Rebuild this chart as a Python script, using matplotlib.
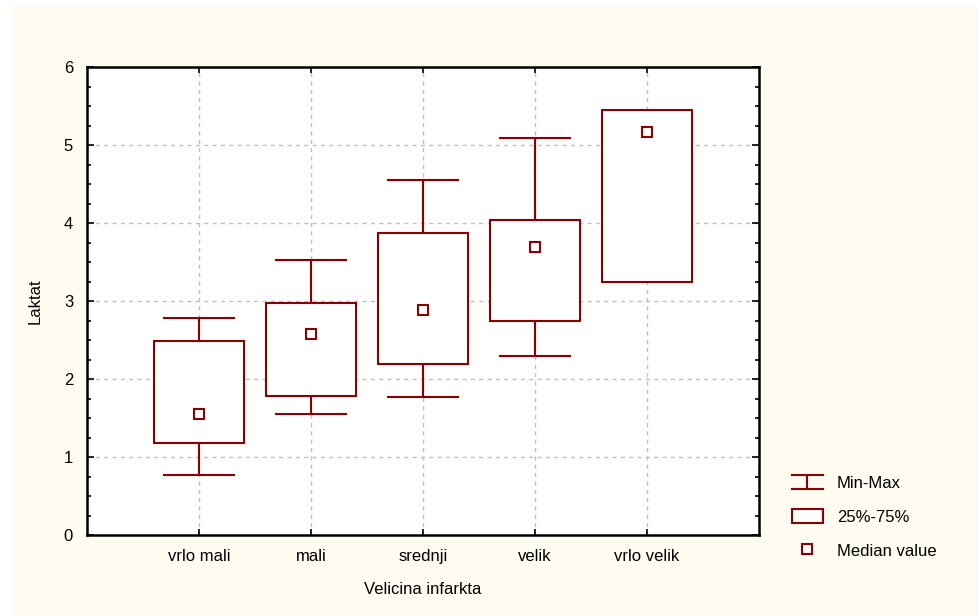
import matplotlib
matplotlib.use("Agg")
import matplotlib.pyplot as plt
from matplotlib.patches import Rectangle
from matplotlib.lines import Line2D
from matplotlib.ticker import MultipleLocator
from matplotlib.legend_handler import HandlerBase
from matplotlib import font_manager

names = {f.name for f in font_manager.fontManager.ttflist}
if 'Liberation Sans Narrow' in names:
    plt.rcParams['font.family'] = ['Liberation Sans Narrow', 'DejaVu Sans']
    FS = 14
else:
    plt.rcParams['font.family'] = ['Liberation Sans', 'DejaVu Sans']
    FS = 12

categories = ["vrlo mali", "mali", "srednji", "velik", "vrlo velik"]
mins = [0.77, 1.55, 1.77, 2.29, 3.24]
q1s = [1.18, 1.78, 2.19, 2.74, 3.24]
medians = [1.55, 2.58, 2.88, 3.69, 5.17]
q3s = [2.49, 2.97, 3.87, 4.04, 5.45]
maxs = [2.78, 3.53, 4.55, 5.09, 5.45]

color = "#8B0000"
lw = 1.5

fig = plt.figure(figsize=(9.79, 6.16), dpi=100, facecolor="white")
fig.patches.append(Rectangle((11/979, 0), 1 - 11/979, (616-6)/616,
                             transform=fig.transFigure, facecolor="#FEFCF0",
                             edgecolor="none", zorder=-10))
ax = fig.add_axes([87/979, 1 - 535/616, (759-87)/979, (535-67)/616])
ax.set_facecolor("white")

box_w = 0.8
cap_w = 0.62
for i, cat in enumerate(categories):
    x = i + 1
    ax.add_patch(Rectangle((x - box_w/2, q1s[i]), box_w, q3s[i] - q1s[i],
                           facecolor="white", edgecolor=color, lw=lw, zorder=3))
    if maxs[i] > q3s[i]:
        ax.plot([x, x], [q3s[i], maxs[i]], color=color, lw=lw, zorder=3)
        ax.plot([x - cap_w/2, x + cap_w/2], [maxs[i], maxs[i]], color=color, lw=lw, zorder=3)
    if mins[i] < q1s[i]:
        ax.plot([x, x], [mins[i], q1s[i]], color=color, lw=lw, zorder=3)
        ax.plot([x - cap_w/2, x + cap_w/2], [mins[i], mins[i]], color=color, lw=lw, zorder=3)
    ax.plot(x, medians[i], marker="s", markersize=7, markerfacecolor="white",
            markeredgecolor=color, markeredgewidth=lw, linestyle="none", zorder=4)

ax.set_xlim(0, 6)
ax.set_ylim(0, 6)
ax.set_xticks(range(1, 6))
ax.set_xticklabels(categories)
ax.yaxis.set_major_locator(MultipleLocator(1))
ax.yaxis.set_minor_locator(MultipleLocator(0.25))
ax.tick_params(axis="both", which="both", direction="in", labelsize=FS,
               top=True, right=True, width=1.2, color="black")
ax.tick_params(axis="y", which="major", length=5, pad=10)
ax.tick_params(axis="y", which="minor", length=3)
ax.tick_params(axis="x", which="major", length=4, pad=10)
for s in ax.spines.values():
    s.set_linewidth(1.8)
ax.grid(True, which="major", color="#C0C0C0", linestyle=(0, (3, 3)), lw=1.0, zorder=0)
ax.set_axisbelow(True)

ax.set_xlabel("Velicina infarkta", fontsize=FS, labelpad=13)
ax.set_ylabel("Laktat", fontsize=FS, labelpad=15)


class IBarHandler(HandlerBase):
    def create_artists(self, legend, orig_handle, xdescent, ydescent, width, height, fontsize, trans):
        x0, x1 = -xdescent, -xdescent + width
        ym = -ydescent + height/2
        top = ym + height*0.5
        bot = ym - height*0.5
        xm = (x0 + x1)/2
        l1 = Line2D([x0, x1], [top, top], color=color, lw=lw, transform=trans)
        l2 = Line2D([x0, x1], [bot, bot], color=color, lw=lw, transform=trans)
        l3 = Line2D([xm, xm], [bot, top], color=color, lw=lw, transform=trans)
        return [l1, l2, l3]

ibar = Line2D([], [])
handles = [
    ibar,
    Rectangle((0, 0), 1, 1, facecolor="white", edgecolor=color, lw=lw),
    Line2D([], [], marker="s", markersize=7, markerfacecolor="white",
           markeredgecolor=color, markeredgewidth=lw, linestyle="none"),
]
hl_pt = 31 * 72 / 100
pad_pt = 14 * 72 / 100
leg = fig.legend(handles, ["Min-Max", "25%-75%", "Median value"],
                 loc="upper left", bbox_to_anchor=(792/979, 1 - 475/616),
                 frameon=False, fontsize=FS, handlelength=hl_pt / FS, handleheight=0.9,
                 labelspacing=1.1, handletextpad=pad_pt / FS,
                 borderaxespad=0, borderpad=0,
                 handler_map={ibar: IBarHandler()})

fig.savefig("out.png", dpi=100, facecolor=fig.get_facecolor())
